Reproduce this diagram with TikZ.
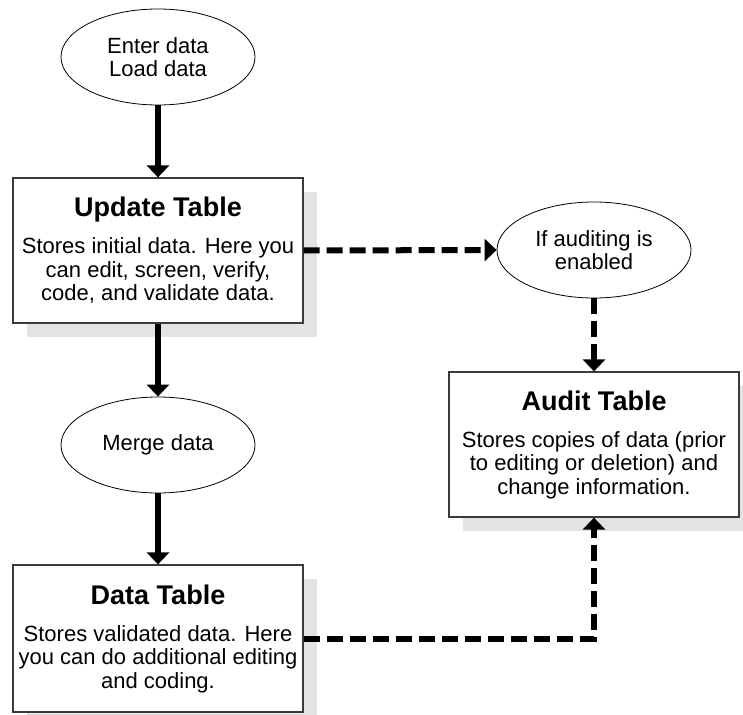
\documentclass[tikz,border=0pt]{standalone}
\usepackage{fontspec}
\setmainfont{Liberation Sans}
\usetikzlibrary{shapes.geometric,arrows.meta,shadows}
\definecolor{shadowgray}{HTML}{E3E3E3}
\definecolor{edgegray}{HTML}{3A3A3A}
\begin{document}
\begin{tikzpicture}[x=1pt,y=-1pt,
  every node/.style={font=\fontsize{22}{23.5}\selectfont},
  oval/.style={ellipse,draw=black,line width=0.8pt,fill=white,
    minimum width=194pt,minimum height=96pt,inner sep=0pt,align=center},
  tablebox/.style={rectangle,draw=edgegray,line width=1.2pt,fill=white,
    minimum width=290pt,minimum height=145pt,inner sep=0pt,align=center,
    drop shadow={shadow xshift=14pt,shadow yshift=-14pt,fill=shadowgray,opacity=1}},
  flow/.style={line width=6pt,-{Triangle[width=22pt,length=12pt]}},
  dashflow/.style={flow,dash pattern=on 16pt off 7pt}
]
\useasboundingbox (0,0) rectangle (743,714);

% process ovals
\node[oval] (enter) at (158,57) {Enter data\\Load data};
\node[oval] (merge) at (158,445) {Merge data};
\node[oval] (audq) at (594,250) {If auditing is\\enabled};

% tables
\newcommand{\tabtitle}[1]{{\fontsize{27}{27}\selectfont\bfseries #1}\\[13.5pt]}
\node[tablebox] (update) at (158,250.5)
  {\tabtitle{Update Table}Stores initial data. Here you\\can edit, screen, verify,\\code, and validate data.};
\node[tablebox] (audit) at (594,444.5)
  {\tabtitle{Audit Table}Stores copies of data (prior\\to editing or deletion) and\\change information.};
\node[tablebox,minimum height=147pt] (data) at (158,638.5)
  {\tabtitle{Data Table}Stores validated data. Here\\you can do additional editing\\and coding.};

% solid flow
\draw[flow] (enter.south) -- (update.north);
\draw[flow] (update.south) -- (merge.north);
\draw[flow] (merge.south) -- (data.north);

% audit flow
\draw[dashflow] (update.east) -- (audq.west);
\draw[dashflow] (audq.south) -- (audit.north);
\draw[dashflow] (data.east) -| (audit.south);
\end{tikzpicture}
\end{document}
